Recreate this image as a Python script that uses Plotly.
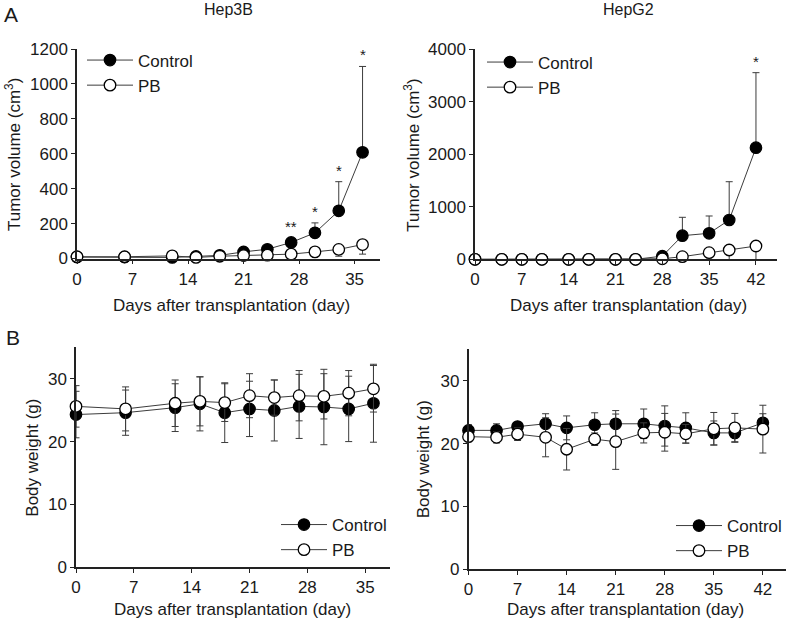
import plotly.graph_objects as go

# ---------------- data ----------------
hep3b_days = [0, 6, 12, 15, 18, 21, 24, 27, 30, 33, 36]
hep3b_ctrl = [8, 8, 6, 12, 18, 38, 53, 92, 147, 273, 608]
hep3b_ctrl_err = [0, 0, 0, 0, 0, 0, 0, 23, 57, 167, 492]
hep3b_pb = [10, 10, 15, 6, 13, 17, 19, 25, 38, 52, 80]
hep3b_pb_err = [0, 0, 0, 0, 0, 0, 0, 0, 0, 39, 55]
hep3b_sig = ["", "", "", "", "", "", "", "**", "*", "*", "*"]

hepg2_days = [0, 4, 7, 10, 14, 17, 21, 24, 28, 31, 35, 38, 42]
hepg2_ctrl = [0, 0, 0, 0, 0, 0, 0, 0, 60, 450, 495, 749, 2126]
hepg2_ctrl_err = [0, 0, 0, 0, 0, 0, 0, 0, 0, 350, 330, 729, 1429]
hepg2_pb = [0, 0, 0, 0, 0, 0, 0, 0, 10, 50, 126, 177, 253]
hepg2_pb_err = [0, 0, 0, 0, 0, 0, 0, 0, 0, 0, 200, 250, 330]
hepg2_sig = ["", "", "", "", "", "", "", "", "", "", "", "", "*"]

bw3b_days = [0, 6, 12, 15, 18, 21, 24, 27, 30, 33, 36]
bw3b_ctrl = [24.3, 24.6, 25.4, 26.0, 24.6, 25.2, 24.95, 25.6, 25.5, 25.2, 26.1]
bw3b_ctrl_err = [3.7, 3.6, 3.8, 4.3, 4.75, 4.4, 4.85, 5.1, 6.0, 5.2, 6.2]
bw3b_pb = [25.6, 25.2, 26.1, 26.4, 26.2, 27.3, 27.0, 27.3, 27.2, 27.7, 28.4]
bw3b_pb_err = [3.3, 3.5, 3.7, 3.9, 3.0, 3.5, 2.8, 4.0, 3.6, 3.6, 3.7]

bwg2_days = [0, 4, 7, 11, 14, 18, 21, 25, 28, 31, 35, 38, 42]
bwg2_ctrl = [22.1, 22.1, 22.7, 23.15, 22.5, 23.0, 23.15, 23.15, 22.8, 22.5, 21.7, 21.7, 23.3]
bwg2_ctrl_err = [0.9, 1.05, 0.6, 1.6, 1.9, 1.9, 2.1, 2.35, 3.2, 2.4, 1.9, 1.4, 1.45]
bwg2_pb = [21.1, 21.0, 21.5, 21.0, 19.1, 20.7, 20.3, 21.7, 21.8, 21.55, 22.35, 22.5, 22.3]
bwg2_pb_err = [0.8, 0.9, 1.0, 3.1, 3.3, 1.0, 4.4, 1.6, 3.0, 1.5, 2.6, 2.3, 3.8]

x_ticks_36 = [0, 7, 14, 21, 28, 35]
x_ticks_42 = [0, 7, 14, 21, 28, 35, 42]
tv_ticks_3b = [0, 200, 400, 600, 800, 1000, 1200]
tv_ticks_g2 = [0, 1000, 2000, 3000, 4000]
bw_ticks = [0, 10, 20, 30]

series_names = ["Control", "PB"]
panel_titles = ["Hep3B", "HepG2"]
panel_letters = ["A", "B"]
x_title = "Days after transplantation (day)"
tv_title = "Tumor volume (cm<sup>3</sup>)"
bw_title = "Body weight (g)"

# ---------------- styling ----------------
W, H = 787, 630
FONT = "Arial, Liberation Sans, sans-serif"
TXT = "#1a1a1a"
LINE = "#3c3c3c"
AX = "#222222"


def px(x):
    return x / W


def py(y):
    return 1 - y / H


fig = go.Figure()


def add_pair(days, ctrl, ctrl_err, pb, pb_err, xa, ya, leg, one_sided):
    zeros = [0] * len(days)
    if one_sided:
        ce = dict(type="data", symmetric=False, array=ctrl_err, arrayminus=zeros,
                  color=LINE, thickness=1, width=3.5)
        pe = dict(type="data", symmetric=False, array=zeros, arrayminus=pb_err,
                  color=LINE, thickness=1, width=3.5)
    else:
        ce = dict(type="data", array=ctrl_err, color=LINE, thickness=1, width=3.5)
        pe = dict(type="data", array=pb_err, color=LINE, thickness=1, width=3.5)
    fig.add_trace(go.Scatter(
        x=days, y=ctrl, name=series_names[0], mode="lines+markers",
        line=dict(color=LINE, width=1),
        marker=dict(symbol="circle", size=11.5, color="#000000",
                    line=dict(color="#000000", width=1.2)),
        error_y=ce, xaxis=xa, yaxis=ya, legend=leg, cliponaxis=False))
    fig.add_trace(go.Scatter(
        x=days, y=pb, name=series_names[1], mode="lines+markers",
        line=dict(color=LINE, width=1),
        marker=dict(symbol="circle", size=11.5, color="#ffffff",
                    line=dict(color="#000000", width=1.3)),
        error_y=pe, xaxis=xa, yaxis=ya, legend=leg, cliponaxis=False))


add_pair(hep3b_days, hep3b_ctrl, hep3b_ctrl_err, hep3b_pb, hep3b_pb_err, "x", "y", "legend", True)
add_pair(hepg2_days, hepg2_ctrl, hepg2_ctrl_err, hepg2_pb, hepg2_pb_err, "x2", "y2", "legend2", True)
add_pair(bw3b_days, bw3b_ctrl, bw3b_ctrl_err, bw3b_pb, bw3b_pb_err, "x3", "y3", "legend3", False)
add_pair(bwg2_days, bwg2_ctrl, bwg2_ctrl_err, bwg2_pb, bwg2_pb_err, "x4", "y4", "legend4", False)

axis_common = dict(showline=True, linecolor=AX, linewidth=1.5, ticks="outside",
                   ticklen=4, tickcolor=AX, tickwidth=1, showgrid=False,
                   zeroline=False, tickfont=dict(family=FONT, size=17, color=TXT),
                   ticklabelstandoff=0, automargin=False)


def ax(domain, rng, ticks, anchor):
    d = dict(axis_common)
    d.update(domain=domain, range=rng, tickvals=ticks, anchor=anchor)
    return d


leg_common = dict(font=dict(family=FONT, size=17, color=TXT), bgcolor="rgba(0,0,0,0)",
                  xanchor="left", yanchor="top", itemwidth=46, tracegroupgap=0)

fig.update_layout(
    width=W, height=H, margin=dict(l=0, r=0, t=0, b=0, autoexpand=False),
    paper_bgcolor="white", plot_bgcolor="white",
    font=dict(family=FONT, color=TXT),
    xaxis=ax([px(77), px(380)], [0, 38.2], x_ticks_36, "y"),
    yaxis=ax([py(258.5), py(49)], [0, 1200], tv_ticks_3b, "x"),
    xaxis2=ax([px(475), px(776.7)], [0, 45.1], x_ticks_42, "y2"),
    yaxis2=ax([py(259.3), py(49.3)], [0, 4000], tv_ticks_g2, "x2"),
    xaxis3=ax([px(76), px(390)], [0, 38], x_ticks_36, "y3"),
    yaxis3=ax([py(567.3), py(347.3)], [0, 35], bw_ticks, "x3"),
    xaxis4=ax([px(468.5), px(786)], [0, 45.3], x_ticks_42, "y4"),
    yaxis4=ax([py(569.3), py(349.3)], [0, 35], bw_ticks, "x4"),
    legend=dict(leg_common, x=px(82), y=py(42.5)),
    legend2=dict(leg_common, x=px(482), y=py(44.5)),
    legend3=dict(leg_common, x=px(276), y=py(507)),
    legend4=dict(leg_common, x=px(671), y=py(508)),
)


def paper_text(text, x, y, size=17, angle=0, xanchor="center", yanchor="middle"):
    return dict(text=text, x=px(x), y=py(y), xref="paper", yref="paper",
                xanchor=xanchor, yanchor=yanchor, textangle=angle, showarrow=False,
                font=dict(family=FONT, size=size, color=TXT))


annotations = [
    paper_text(panel_letters[0], 2, 1, size=21, xanchor="left", yanchor="top"),
    paper_text(panel_letters[1], 4, 324, size=21, xanchor="left", yanchor="top"),
    paper_text(panel_titles[0], 228, 10, size=16),
    paper_text(panel_titles[1], 628, 10, size=16),
    # axis titles
    paper_text(tv_title, 13, 155, angle=-90),
    paper_text(tv_title, 411.7, 155, angle=-90),
    paper_text(bw_title, 31.7, 458, angle=-90),
    paper_text(bw_title, 423.3, 459, angle=-90),
    paper_text(x_title, 232, 305),
    paper_text(x_title, 628, 305),
    paper_text(x_title, 232.5, 609),
    paper_text(x_title, 625, 609),
]
for d, v, e, s in zip(hep3b_days, hep3b_ctrl, hep3b_ctrl_err, hep3b_sig):
    if s:
        annotations.append(dict(text=s, x=d, y=v + e, xref="x", yref="y", xanchor="center",
                                yanchor="bottom", showarrow=False, yshift=1,
                                font=dict(family=FONT, size=15, color=TXT)))
for d, v, e, s in zip(hepg2_days, hepg2_ctrl, hepg2_ctrl_err, hepg2_sig):
    if s:
        annotations.append(dict(text=s, x=d, y=v + e, xref="x2", yref="y2", xanchor="center",
                                yanchor="bottom", showarrow=False, yshift=1,
                                font=dict(family=FONT, size=15, color=TXT)))
fig.update_layout(annotations=annotations)

fig.write_html("out.html", config={"displayModeBar": False},
               post_script="document.body.style.margin='0px';document.body.style.overflow='hidden';")
